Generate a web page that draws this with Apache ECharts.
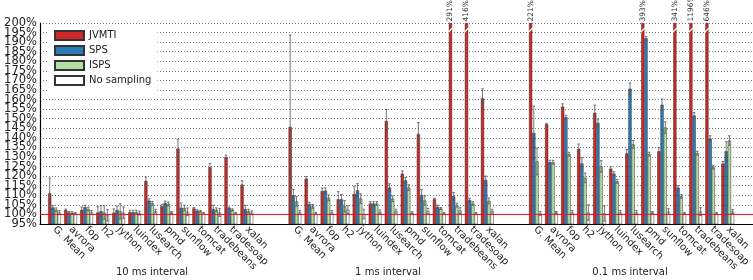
<!DOCTYPE html>
<html>
<head>
<meta charset="utf-8">
<script src="https://cdn.jsdelivr.net/npm/echarts@6/dist/echarts.min.js"></script>
<style>
    html, body { margin: 0; padding: 0; background: #fff; }
    #container { width: 753px; height: 280px; }
</style>
</head>
<body>
<div id="container"></div>
<script>
    var benchmarks = ['G. Mean', 'avrora', 'fop', 'h2', 'jython', 'luindex', 'lusearch', 'pmd', 'sunflow', 'tomcat', 'tradebeans', 'tradesoap', 'xalan'];
    var intervals = ['10 ms interval', '1 ms interval', '0.1 ms interval'];
    var seriesNames = ['JVMTI', 'SPS', 'ISPS', 'No sampling'];
    var yTicks = [95, 200, 5]; // min, max, step
    var baseline = 100;

    // 10 ms interval
    var jvmti10 = [111, 102.3, 102.4, 101, 100.9, 101.2, 117.5, 104.3, 134.4, 103.1, 124.7, 130, 115.6];
    var sps10 = [103.6, 101, 103.8, 101.7, 102.4, 101.2, 107.2, 106, 103.5, 101.9, 102.8, 103.3, 102.8];
    var isps10 = [102.4, 100.9, 102.8, 101, 101.6, 101.2, 105.8, 105.5, 103.3, 101.6, 102.4, 102.4, 101.7];
    var none10 = [101, 100.5, 101, 99.5, 100.9, 100.7, 101.7, 101, 101.4, 100.5, 101, 100.5, 100.9];
    // 1 ms interval
    var jvmti1 = [145.7, 118.7, 112.2, 107.9, 110.7, 105.7, 148.8, 121.3, 142, 107.9, 291, 416, 160.6];
    var sps1 = [110, 105.4, 112.4, 107.9, 112.6, 105.7, 114, 117.8, 110.1, 103.9, 109.5, 107.5, 118];
    var isps1 = [106.8, 104.2, 108.7, 104.2, 108.3, 105.7, 108.2, 114, 107.3, 103.1, 104.9, 105.7, 107.1];
    var none1 = [101, 100.5, 101, 102.5, 100.2, 101.4, 101.7, 100.9, 101.7, 100.5, 102, 100.5, 101.7];
    // 0.1 ms interval
    var jvmti01 = [221, 147.1, 156.3, 134.3, 153.1, 123.9, 131.9, 393, 133, 341, 1196, 646, 126.6];
    var sps01 = [142.6, 127.3, 150.8, 126.6, 147.8, 121.3, 165.7, 192, 157.3, 114, 151.7, 139.6, 133];
    var isps01 = [127.7, 127.3, 131.5, 119.1, 125.1, 117.3, 136.6, 131.5, 145.4, 109.5, 132, 124.7, 138.6];
    var none01 = [100.5, 101, 101, 101, 100.5, 101, 101, 101, 101.5, 100.5, 101.5, 100.5, 101.5];

    // error bar half-widths, same order
    var err10 = [
        [8, 0.5, 1.5, 3, 2, 1, 2, 1, 5, 0.5, 2, 1, 2],
        [1, 0.5, 1, 3, 2, 1, 1, 1, 2.5, 0.5, 2, 0.5, 2],
        [1, 0.5, 1, 3.5, 4, 1, 1, 1, 1.5, 0.5, 1, 0.5, 1],
        [1, 0.5, 1, 3, 3, 1, 1, 0.5, 2, 0.5, 2, 0.5, 1]
    ];
    var err1 = [
        [48, 1, 1.5, 4, 4, 1, 6, 1.5, 6, 0.5, 0, 0, 5],
        [3, 1, 1.5, 2.5, 3.5, 1, 2, 1.5, 3, 1, 2, 1, 2],
        [2.5, 1, 1.5, 3, 2.5, 1, 1.5, 1.5, 2.5, 0.5, 1, 1, 1.5],
        [1, 0.5, 1, 2, 2.5, 1, 1, 0.5, 1.5, 0.5, 1.5, 0.5, 1]
    ];
    var err01 = [
        [0, 0.5, 1.5, 2.5, 4, 1, 2, 0, 2, 0, 0, 0, 1],
        [14, 1, 1, 3, 2, 1, 3, 1, 3, 1, 1.5, 1.5, 5],
        [7, 1, 1, 2.5, 3, 1, 2, 1, 3, 1, 1, 1, 2.5],
        [1, 0.5, 1, 4, 4, 1, 1, 0.5, 1.5, 0.5, 2, 0.5, 1]
    ];

    draw();

    function draw() {
        var groups = [
            [jvmti10, sps10, isps10, none10],
            [jvmti1, sps1, isps1, none1],
            [jvmti01, sps01, isps01, none01]
        ];
        var errs = [err10, err1, err01];
        var colors = ['#d02626', '#2b7bb8', '#b3dfa3', '#ffffff'];
        var gap = 2; // empty slots between intervals

        var categories = [];
        var values = [[], [], [], []];
        var errors = [[], [], [], []];
        function pushEmpty() {
            categories.push('');
            for (var s = 0; s < 4; s++) {
                values[s].push(null);
                errors[s].push(0);
            }
        }
        groups.forEach(function (g, gi) {
            if (gi > 0) {
                for (var j = 0; j < gap; j++) pushEmpty();
            }
            benchmarks.forEach(function (b, bi) {
                categories.push(b);
                for (var s = 0; s < 4; s++) {
                    values[s].push(g[s][bi]);
                    errors[s].push(errs[gi][s][bi]);
                }
            });
        });
        pushEmpty();

        var top = yTicks[1];
        var series = seriesNames.map(function (name, s) {
            return {
                name: name,
                type: 'bar',
                xAxisIndex: 0,
                yAxisIndex: 0,
                barWidth: '20%',
                barGap: '0%',
                z: 2,
                itemStyle: {
                    color: colors[s],
                    borderColor: '#333',
                    borderWidth: 0.5
                },
                data: values[s].map(function (v) {
                    return v == null ? '-' : Math.min(v, top);
                })
            };
        });

        var errData = [];
        var breakData = [];
        for (var s = 0; s < 4; s++) {
            values[s].forEach(function (v, i) {
                if (v == null) return;
                if (v > top) {
                    breakData.push([i, v, s]);
                } else if (errors[s][i] > 0) {
                    errData.push([i, v, errors[s][i], s]);
                }
            });
        }

        series.push({
            type: 'custom',
            name: 'err',
            xAxisIndex: 0,
            yAxisIndex: 0,
            z: 3,
            clip: true,
            encode: { x: 0, y: 1 },
            renderItem: function (params, api) {
                var i = api.value(0), v = api.value(1), e = api.value(2), s = api.value(3);
                var bw = api.size([1, 0])[0] * 0.2;
                var x = api.coord([i, v])[0] + (s - 1.5) * bw;
                var y1 = api.coord([i, v + e])[1];
                var y2 = api.coord([i, v - e])[1];
                var st = { stroke: '#555', lineWidth: 0.8 };
                return {
                    type: 'group',
                    children: [
                        { type: 'line', shape: { x1: x, y1: y1, x2: x, y2: y2 }, style: st },
                        { type: 'line', shape: { x1: x - 1.3, y1: y1, x2: x + 1.3, y2: y1 }, style: st },
                        { type: 'line', shape: { x1: x - 1.3, y1: y2, x2: x + 1.3, y2: y2 }, style: st }
                    ]
                };
            },
            data: errData
        });

        series.push({
            type: 'custom',
            name: 'breaks',
            xAxisIndex: 0,
            yAxisIndex: 0,
            z: 4,
            clip: false,
            encode: { x: 0, y: 1 },
            renderItem: function (params, api) {
                var i = api.value(0), v = api.value(1), s = api.value(2);
                var bw = api.size([1, 0])[0] * 0.2;
                var x = api.coord([i, top])[0] + (s - 1.5) * bw;
                var yTop = api.coord([i, top])[1];
                var yb = api.coord([i, 196.3])[1];
                return {
                    type: 'group',
                    children: [
                        {
                            type: 'line',
                            shape: { x1: x - bw / 2 - 0.6, y1: yb + 2.2, x2: x + bw / 2 + 0.6, y2: yb - 2.2 },
                            style: { stroke: '#fff', lineWidth: 1.3 }
                        },
                        {
                            type: 'text',
                            x: x,
                            y: yTop - 1.5,
                            rotation: Math.PI / 2,
                            style: {
                                text: v + '%',
                                fontSize: 7.5,
                                fontFamily: 'DejaVu Sans',
                                fill: '#333',
                                align: 'left',
                                verticalAlign: 'middle'
                            }
                        }
                    ]
                };
            },
            data: breakData
        });

        // 100% reference line across the whole frame
        series.push({
            type: 'line',
            name: 'base',
            xAxisIndex: 1,
            yAxisIndex: 1,
            z: 6,
            silent: true,
            symbol: 'none',
            lineStyle: { color: '#ee1111', width: 1 },
            data: [[0, baseline], [1, baseline]]
        });

        var titleX = [152, 388, 630];
        var graphics = intervals.map(function (t, k) {
            return {
                type: 'text',
                x: titleX[k],
                y: 272,
                style: {
                    text: t,
                    fontSize: 10,
                    fontFamily: 'DejaVu Sans',
                    fill: '#222',
                    align: 'center',
                    verticalAlign: 'middle'
                }
            };
        });

        // plot frame: top 23, bottom 56, height 201 px for 95..200
        var plotTop = 23, plotBottom = 56;
        var pxPerUnit = (280 - plotTop - plotBottom) / (yTicks[1] - yTicks[0]);
        var step = yTicks[2];

        // tick labels split over two axes (every other tick each) so none get hidden
        function labelAxis(gridIndex, min, max) {
            return {
                type: 'value',
                gridIndex: gridIndex,
                min: min,
                max: max,
                interval: step * 2,
                axisLine: { show: false },
                axisTick: { show: false },
                splitLine: { show: false },
                axisLabel: {
                    formatter: function (v) {
                        return (v < yTicks[0] || v > yTicks[1]) ? '' : v + '%';
                    },
                    fontSize: 11.5,
                    color: '#222',
                    margin: 3,
                    fontFamily: 'DejaVu Sans'
                }
            };
        }
        function hiddenX(gridIndex) {
            return { type: 'value', gridIndex: gridIndex, min: 0, max: 1, show: false };
        }

        var dom = document.getElementById("container");
        var myChart = echarts.init(dom);
        var option = {
            animation: false,
            textStyle: { fontFamily: 'DejaVu Sans' },
            grid: [
                { left: 46.5, right: -6.5, top: plotTop, bottom: plotBottom },
                { left: 40, right: 0, top: plotTop, bottom: plotBottom },
                // 90..200 in steps of 10
                { left: 40, right: 0, top: plotTop, bottom: plotBottom - step * pxPerUnit },
                // 85..205 in steps of 10
                { left: 40, right: 0, top: plotTop - step * pxPerUnit, bottom: plotBottom - 2 * step * pxPerUnit }
            ],
            legend: {
                data: seriesNames,
                orient: 'vertical',
                left: 49,
                top: 25,
                padding: [5, 6, 5, 5],
                itemWidth: 29,
                itemHeight: 9,
                itemGap: 4,
                icon: 'rect',
                backgroundColor: '#fff',
                selectedMode: false,
                textStyle: { fontSize: 10, color: '#222', fontFamily: 'DejaVu Sans' }
            },
            graphic: graphics,
            xAxis: [{
                type: 'category',
                gridIndex: 0,
                data: categories,
                axisLine: { show: false },
                axisTick: { show: false },
                axisLabel: {
                    interval: 0,
                    rotate: -45,
                    margin: 4,
                    fontSize: 10,
                    color: '#222',
                    fontFamily: 'DejaVu Sans'
                },
                splitLine: { show: false }
            }, {
                type: 'value',
                gridIndex: 1,
                min: 0,
                max: 1,
                axisLine: { show: true, lineStyle: { color: '#000', width: 1.2 } },
                axisTick: { show: false },
                axisLabel: { show: false },
                splitLine: { show: false }
            }, hiddenX(2), hiddenX(3)],
            yAxis: [{
                type: 'value',
                gridIndex: 0,
                min: yTicks[0],
                max: yTicks[1],
                show: false
            }, {
                type: 'value',
                gridIndex: 1,
                min: yTicks[0],
                max: yTicks[1],
                interval: step,
                axisLine: { show: true, lineStyle: { color: '#000', width: 1.2 } },
                axisTick: { show: false },
                axisLabel: { show: false },
                splitLine: {
                    show: true,
                    lineStyle: { color: '#555', width: 0.8, type: [1, 2] }
                }
            },
                labelAxis(2, yTicks[0] - step, yTicks[1]),
                labelAxis(3, yTicks[0] - 2 * step, yTicks[1] + step)
            ],
            series: series
        };
        myChart.setOption(option, true);
    }
</script>
</body>
</html>
